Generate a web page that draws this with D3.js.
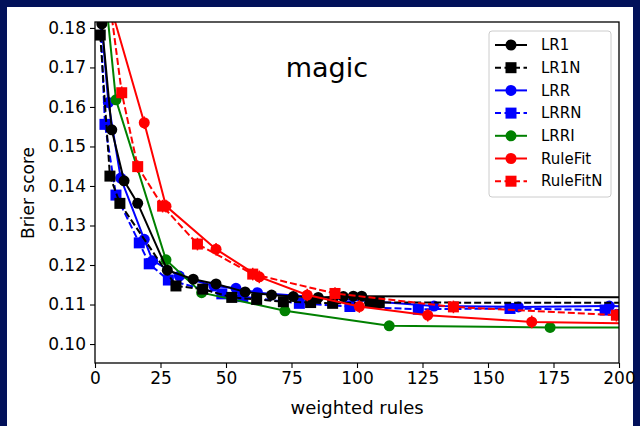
<!DOCTYPE html>
<html><head><meta charset="utf-8">
<script src="https://cdn.jsdelivr.net/npm/d3@7"></script>
<style>html,body{margin:0;padding:0;background:#02115a;} svg{display:block;font-family:"DejaVu Sans",sans-serif;}</style>
</head><body><svg id="c" width="640" height="426"></svg>
<script>
const xTicks = [0, 25, 50, 75, 100, 125, 150, 175, 200];
const yTicks = [0.10, 0.11, 0.12, 0.13, 0.14, 0.15, 0.16, 0.17, 0.18];
const titleText = "magic";
const xLabel = "weighted rules";
const yLabel = "Brier score";

const lr1X = [2.6, 6.4, 11.1, 16.3, 27.6, 37.5, 46.2, 57.3, 67.4, 75.7, 85.2, 94.8, 98.6, 101.8, 250];
const lr1Y = [0.181, 0.1542, 0.1413, 0.1356, 0.1187, 0.1164, 0.1152, 0.1132, 0.1124, 0.112, 0.1118, 0.112, 0.1121, 0.1121, 0.1117];
const lr1nX = [2, 5.7, 9.5, 30.9, 41.1, 52.2, 61.7, 71.9, 82.3, 90.7, 105, 108.5, 250];
const lr1nY = [0.1782, 0.1425, 0.1356, 0.1147, 0.1139, 0.1118, 0.1113, 0.1107, 0.1105, 0.1103, 0.1105, 0.1105, 0.1104];
const lrrX = [2, 5.1, 9.8, 18.8, 22, 32.2, 45.4, 53.8, 62, 129.4, 161.6, 196.3, 250];
const lrrY = [0.185, 0.1611, 0.142, 0.1265, 0.1211, 0.1172, 0.1147, 0.1141, 0.113, 0.1096, 0.1094, 0.1096, 0.1093];
const lrrnX = [2, 3.8, 8, 16.9, 20.7, 28, 48.4, 56.4, 78, 97.3, 123.4, 158.4, 194.7, 250];
const lrrnY = [0.183, 0.1556, 0.1377, 0.1256, 0.1203, 0.1162, 0.1127, 0.112, 0.1103, 0.1095, 0.1088, 0.109, 0.1086, 0.1085];
const lrriX = [3, 8, 27.1, 40.7, 72.5, 112.3, 173.7, 250];
const lrriY = [0.195, 0.1618, 0.1213, 0.113, 0.1084, 0.1046, 0.1042, 0.1042];
const rulefitX = [4, 18.8, 27.1, 46.2, 62.7, 81, 100.9, 127, 166.7, 230];
const rulefitY = [0.19, 0.156, 0.1349, 0.124, 0.117, 0.1124, 0.1095, 0.1073, 0.1056, 0.105];
const rulefitnX = [3, 10.2, 16.3, 25.8, 39.1, 60.2, 91.6, 136.8, 199];
const rulefitnY = [0.20, 0.1636, 0.1449, 0.1349, 0.1253, 0.1177, 0.1128, 0.1094, 0.1073];
const errRed = 0.0016;

const series = [
  {name: "LR1", xs: lr1X, ys: lr1Y, color: "#000000", dash: null, marker: "circle", err: 0},
  {name: "LR1N", xs: lr1nX, ys: lr1nY, color: "#000000", dash: "7,3", marker: "square", err: 0},
  {name: "LRR", xs: lrrX, ys: lrrY, color: "#0000ff", dash: null, marker: "circle", err: 0},
  {name: "LRRN", xs: lrrnX, ys: lrrnY, color: "#0000ff", dash: "7,3", marker: "square", err: 0},
  {name: "LRRI", xs: lrriX, ys: lrriY, color: "#008000", dash: null, marker: "circle", err: 0},
  {name: "RuleFit", xs: rulefitX, ys: rulefitY, color: "#ff0000", dash: null, marker: "circle", err: errRed},
  {name: "RuleFitN", xs: rulefitnX, ys: rulefitnY, color: "#ff0000", dash: "7,3", marker: "square", err: errRed}
];
const drawOrder = ["LRR", "LRRN", "LRRI", "LR1", "LR1N", "RuleFit", "RuleFitN"];

const W = 640, H = 426;
const L = 95, R = 619, T = 22, B = 363;
const svg = d3.select("#c");
svg.append("rect").attr("x", 0).attr("y", 0).attr("width", W).attr("height", H).attr("fill", "#02115a");
svg.append("rect").attr("x", 7).attr("y", 7).attr("width", 626).attr("height", 419).attr("fill", "#ffffff");

const x = d3.scaleLinear().domain([0, 200]).range([L, R]);
const y = d3.scaleLinear().domain([0.0952, 0.1815]).range([B, T]);

svg.append("defs").append("clipPath").attr("id", "clip")
  .append("rect").attr("x", L).attr("y", T).attr("width", R - L).attr("height", B - T);

const plot = svg.append("g").attr("clip-path", "url(#clip)");
const MR = 5.5, MS = 11;

function drawMarker(g, cx, cy, s, color) {
  if (s.marker === "circle") {
    g.append("circle").attr("cx", cx).attr("cy", cy).attr("r", MR).attr("fill", color);
  } else {
    g.append("rect").attr("x", cx - MS / 2).attr("y", cy - MS / 2).attr("width", MS).attr("height", MS).attr("fill", color);
  }
}

drawOrder.forEach(n => {
  const s = series.find(d => d.name === n);
  const pts = s.xs.map((v, i) => [v, s.ys[i]]);
  const line = d3.line().x(d => x(d[0])).y(d => y(d[1]));
  const g = plot.append("g");
  g.append("path").attr("d", line(pts)).attr("fill", "none").attr("stroke", s.color)
    .attr("stroke-width", 2).attr("stroke-dasharray", s.dash);
  pts.forEach(p => {
    if (s.err > 0) {
      g.append("line").attr("x1", x(p[0])).attr("x2", x(p[0]))
        .attr("y1", y(p[1] - s.err)).attr("y2", y(p[1] + s.err))
        .attr("stroke", s.color).attr("stroke-width", 1.5);
    }
    drawMarker(g, x(p[0]), y(p[1]), s, s.color);
  });
});

// frame
svg.append("rect").attr("x", L).attr("y", T).attr("width", R - L).attr("height", B - T)
  .attr("fill", "none").attr("stroke", "#000").attr("stroke-width", 1.3);

const fs = 17;
const xa = svg.append("g").attr("transform", `translate(0,${B})`)
  .call(d3.axisBottom(x).tickValues(xTicks).tickSize(5).tickPadding(4).tickFormat(d3.format("d")));
const ya = svg.append("g").attr("transform", `translate(${L},0)`)
  .call(d3.axisLeft(y).tickValues(yTicks).tickSize(5).tickPadding(4).tickFormat(d3.format(".2f")));
[xa, ya].forEach(a => {
  a.select(".domain").remove();
  a.selectAll("line").attr("stroke", "#000").attr("stroke-width", 1.1);
  a.selectAll("text").attr("font-size", fs).attr("fill", "#000").attr("font-family", "DejaVu Sans");
});

svg.append("text").attr("x", (L + R) / 2).attr("y", 414).attr("text-anchor", "middle")
  .attr("font-size", 18).text(xLabel);
svg.append("text").attr("transform", "translate(34,193) rotate(-90)").attr("text-anchor", "middle")
  .attr("font-size", 17).text(yLabel);
svg.append("text").attr("x", x(88.5)).attr("y", 77).attr("text-anchor", "middle")
  .attr("font-size", 27).text(titleText);

// legend
const lg = svg.append("g");
lg.append("rect").attr("x", 489).attr("y", 31).attr("width", 122).attr("height", 166).attr("rx", 3)
  .attr("fill", "#fff").attr("fill-opacity", 0.8).attr("stroke", "#cccccc").attr("stroke-width", 1);
series.forEach((s, i) => {
  const cy = 45 + i * 22.7;
  lg.append("line").attr("x1", 495).attr("x2", 527).attr("y1", cy).attr("y2", cy)
    .attr("stroke", s.color).attr("stroke-width", 2).attr("stroke-dasharray", s.dash ? "6,3.5" : null);
  drawMarker(lg, 511, cy, s, s.color);
  lg.append("text").attr("x", 541).attr("y", cy).attr("dy", "0.35em").attr("font-size", 15).text(s.name);
});
</script></body></html>
